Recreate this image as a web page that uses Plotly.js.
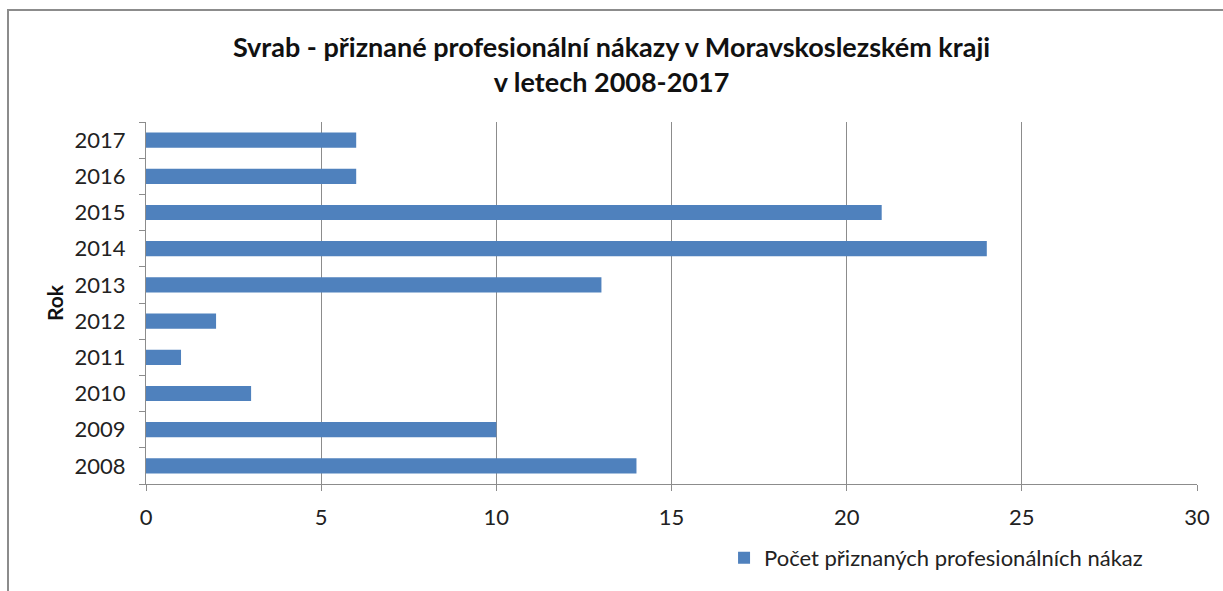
<!DOCTYPE html>
<html><head><meta charset="utf-8">
<script src="https://cdn.plot.ly/plotly-3.0.1.min.js"></script>
<style>
html,body{margin:0;padding:0;background:#fff;overflow:hidden;}
#wrap{position:relative;width:1223px;height:591px;}
#chart{position:absolute;left:0;top:0;width:1223px;height:591px;}
#frame{position:absolute;left:7px;top:9px;width:1300px;height:700px;border:2px solid #8c8c8c;pointer-events:none;}
</style></head>
<body><div id="wrap"><div id="chart"></div><div id="frame"></div></div>
<script>
const years = ['2008','2009','2010','2011','2012','2013','2014','2015','2016','2017'];
const counts = [14, 10, 3, 1, 2, 13, 24, 21, 6, 6];
const seriesName = 'Počet přiznaných profesionálních nákaz';
const titleText = 'Svrab - přiznané profesionální nákazy v Moravskoslezském kraji<br>v letech 2008-2017';
const xTicks = [0, 5, 10, 15, 20, 25, 30];

const font = 'Lato, "Open Sans", sans-serif';
Plotly.newPlot('chart', [{
  type: 'bar', orientation: 'h', x: counts, y: years, name: seriesName,
  marker: {color: '#4f81bd'}, showlegend: true
}], {
  width: 1223, height: 591,
  margin: {l: 146, r: 26, t: 122, b: 105},
  paper_bgcolor: '#fff', plot_bgcolor: '#fff',
  bargap: 0.58,
  font: {family: font, size: 22, color: '#222'},
  title: {text: titleText, x: 0.5, xanchor: 'center', y: 0.904, yanchor: 'top',
          font: {family: font, size: 27, color: '#111', weight: 'bold'}},
  xaxis: {range: [0, 30], tickvals: xTicks, ticktext: xTicks.map(String),
          showgrid: true, gridcolor: '#8c8c8c', gridwidth: 1,
          showline: true, linecolor: '#8c8c8c', ticks: 'outside', ticklen: 6, tickcolor: '#8c8c8c',
          ticklabelstandoff: 8,
          zeroline: false, fixedrange: true, tickfont: {size: 22, color: '#222'}},
  yaxis: {type: 'category', categoryorder: 'array', categoryarray: years,
          showline: true, linecolor: '#8c8c8c', ticks: 'outside', ticklen: 6, tickcolor: '#8c8c8c',
          tickson: 'boundaries', showgrid: false, fixedrange: true, ticklabelstandoff: 15,
          tickfont: {size: 22, color: '#222'},
          title: {text: 'Rok', standoff: 5, font: {size: 21, color: '#111', weight: 'bold'}}},
  legend: {orientation: 'h', x: 0.55, xanchor: 'left', y: -0.146, yanchor: 'top',
           font: {size: 22, color: '#222'}, itemwidth: 30},
}, {displayModeBar: false, staticPlot: true});
</script></body></html>
